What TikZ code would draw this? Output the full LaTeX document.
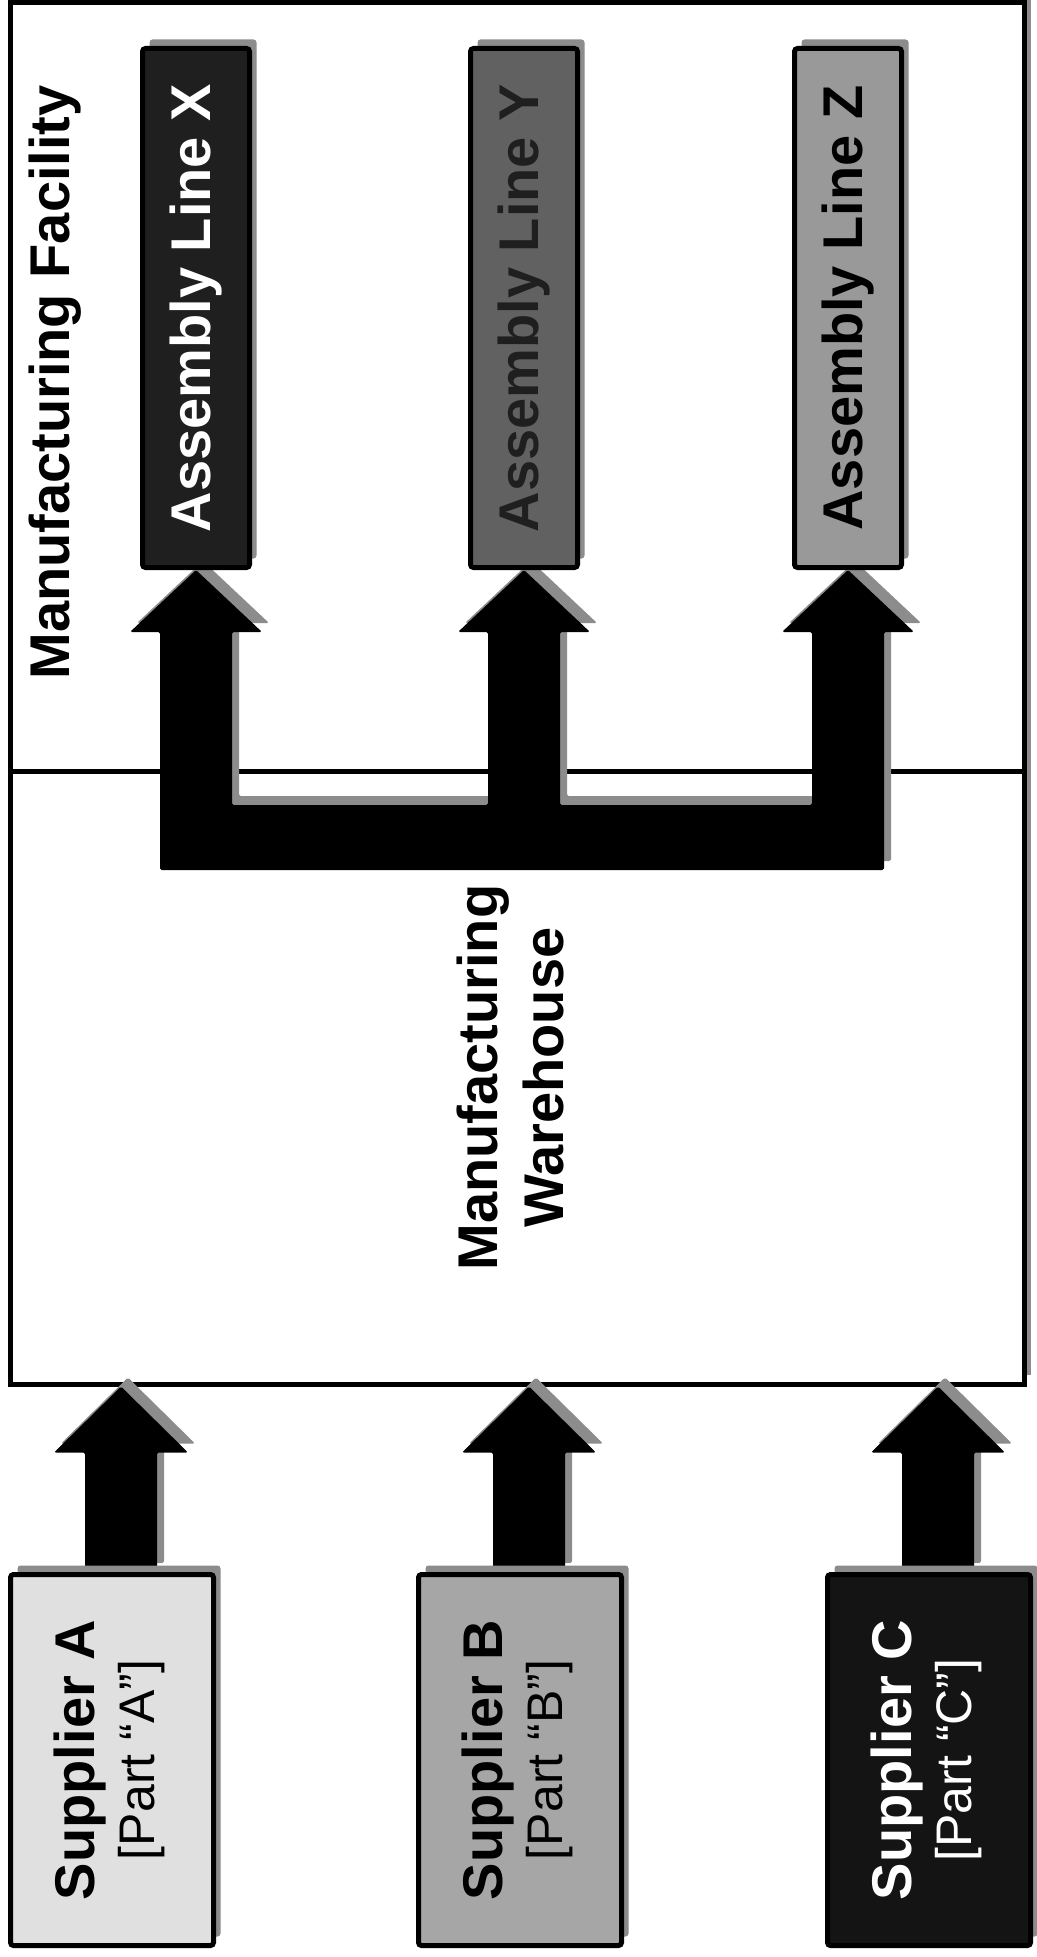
\documentclass[tikz,border=0pt]{standalone}
\usepackage{fontspec}
\setmainfont{Liberation Sans}
\usepackage{graphicx}
\usetikzlibrary{calc, shadows}

\pgfdeclarelayer{frame}
\pgfdeclarelayer{flow}
\pgfsetlayers{frame,flow,main}

% two-line supplier label, set upright
\newcommand{\supplylabel}[1]{\rotatebox{90}{\begin{tabular}{@{}c@{}}\bfseries Supplier #1\\ \mdseries\fontsize{25}{30}\selectfont[Part “#1”]\end{tabular}}}

\begin{document}
\begin{tikzpicture}[x=0.5pt, y=-0.5pt,
    every node/.style={font=\fontsize{28}{33}\selectfont\bfseries},
    shadowed/.style={drop shadow={shadow xshift=3.5pt, shadow yshift=4.5pt, fill=black!45, opacity=1}},
    area/.style={draw, line width=2.5pt, fill=white, minimum width=507pt, inner sep=0pt, shadowed},
    linebox/.style={draw, line width=2.5pt, rounded corners=1.5pt, minimum width=53.5pt,
                    minimum height=259.5pt, inner sep=0pt, shadowed},
    supplybox/.style={draw, line width=2.5pt, rounded corners=1.5pt, minimum width=101.5pt,
                      minimum height=185.5pt, inner sep=0pt, font=\fontsize{28}{30}\selectfont, shadowed},
    flowarrow/.style={fill=black, rounded corners=0.8pt, shadowed}]
\useasboundingbox (0,0) rectangle (1037,1957);

% facility and warehouse
\begin{pgfonlayer}{frame}
    \node[area, minimum height=306.5pt] (wh) at (517,1077.5)
        {\rotatebox{90}{\begin{tabular}{@{}c@{}}Manufacturing\\Warehouse\end{tabular}}};
    \node[area, minimum height=384pt] (facility) at (517,387) {};
\end{pgfonlayer}
\node[inner sep=0pt, anchor=south east] (title) at (82,680) {\rotatebox{90}{Manufacturing Facility}};

% assembly lines
\node[linebox, fill=black!88, text=white] (lineX) at (196,308) {\rotatebox{90}{Assembly Line X}};
\node[linebox, fill=black!62, text=black!88] (lineY) at (524,308) {\rotatebox{90}{Assembly Line Y}};
\node[linebox, fill=black!40] (lineZ) at (848,308) {\rotatebox{90}{Assembly Line Z}};

% suppliers
\node[supplybox, fill=black!12] (supA) at (112,1760) {\supplylabel{A}};
\node[supplybox, fill=black!35] (supB) at (520,1760) {\supplylabel{B}};
\node[supplybox, fill=black!92, text=white] (supC) at (929,1760) {\supplylabel{C}};
\coordinate (forkbase) at (522,870);

\begin{pgfonlayer}{flow}
    % parts into the warehouse
    \foreach \s in {supA,supB,supC}
        \fill[flowarrow] let \p1=($(\s.north)+(9,0)$), \p2=(wh.south) in
            (\x1-18pt,\y1) -- (\x1-18pt,\y2-33pt) -- (\x1-33.5pt,\y2-33pt) -- (\x1,\y2)
            -- (\x1+33.5pt,\y2-33pt) -- (\x1+18pt,\y2-33pt) -- (\x1+18pt,\y1) -- cycle;
    % warehouse out to the three lines
    \fill[flowarrow] let \p1=(lineX.south), \p2=(lineY.south), \p3=(lineZ.south), \p4=(forkbase) in
        (\x1-18pt,\y4) -- (\x1-18pt,\y1-31pt) -- (\x1-33pt,\y1-31pt) -- (\p1)
        -- (\x1+33pt,\y1-31pt) -- (\x1+18pt,\y1-31pt) -- (\x1+18pt,\y4+32.5pt)
        -- (\x2-18pt,\y4+32.5pt) -- (\x2-18pt,\y2-31pt) -- (\x2-33pt,\y2-31pt) -- (\p2)
        -- (\x2+33pt,\y2-31pt) -- (\x2+18pt,\y2-31pt) -- (\x2+18pt,\y4+32.5pt)
        -- (\x3-18pt,\y4+32.5pt) -- (\x3-18pt,\y3-31pt) -- (\x3-33pt,\y3-31pt) -- (\p3)
        -- (\x3+33pt,\y3-31pt) -- (\x3+18pt,\y3-31pt) -- (\x3+18pt,\y4) -- cycle;
\end{pgfonlayer}
\end{tikzpicture}
\end{document}
